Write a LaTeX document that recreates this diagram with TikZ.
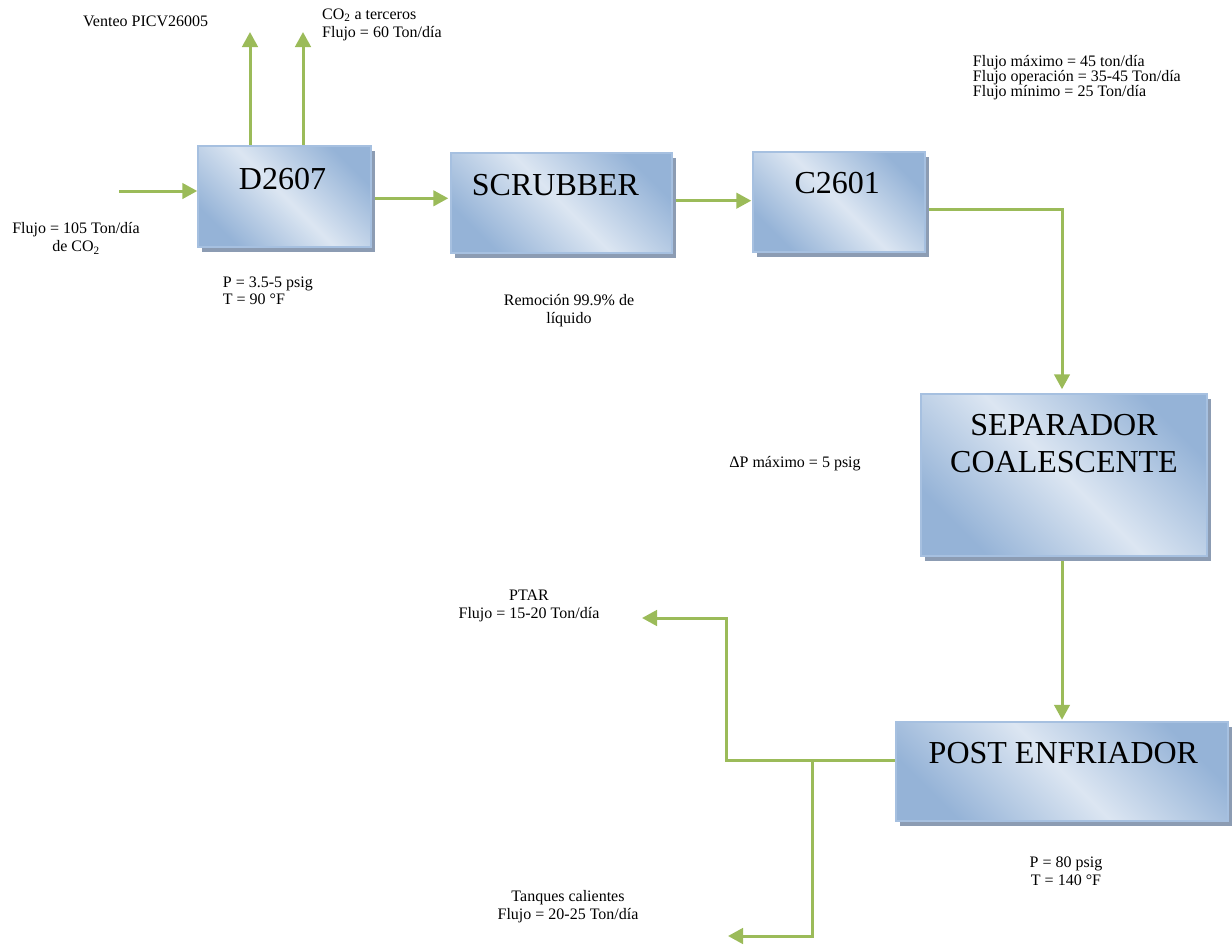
\documentclass[tikz,border=0pt]{standalone}
\usepackage{fontspec}
\setmainfont{Liberation Serif}
\usetikzlibrary{arrows.meta,shadows,calc}
\definecolor{flowgreen}{HTML}{9BBB59}
\definecolor{boxdark}{HTML}{95B3D7}
\definecolor{boxlight}{HTML}{DCE6F2}
\definecolor{boxedge}{HTML}{A6C0E0}
\definecolor{shadowc}{HTML}{8C9CB3}
\pgfdeclarelayer{background}
\pgfsetlayers{background,main}
\tikzset{
  unitbox/.style={draw=boxedge, line width=1.5pt, left color=boxdark, right color=boxdark,
    middle color=boxlight, shading angle=-45, inner sep=0pt,
    drop shadow={shadow xshift=4pt, shadow yshift=-5pt, fill=shadowc, opacity=1}},
  boxlabel/.style={font=\fontsize{32}{37.7}\selectfont, inner sep=0pt, align=center},
  note/.style={font=\fontsize{16}{18.4}\selectfont, inner sep=0pt},
  flow/.style={draw=flowgreen, line width=3pt, -{Triangle[length=15pt,width=15.5pt]}},
}
\begin{document}
\begin{tikzpicture}[x=1pt,y=-1pt]
\useasboundingbox (0,0) rectangle (1232,948);

% process units
\node[unitbox, minimum width=173pt, minimum height=101pt] (d2607) at (284.5,196.5) {};
\node[unitbox, minimum width=221pt, minimum height=100pt] (scrub) at (561.5,203) {};
\node[unitbox, minimum width=172pt, minimum height=100pt] (c2601) at (839,202) {};
\node[unitbox, minimum width=286pt, minimum height=162pt] (sep) at (1064,475) {};
\node[unitbox, minimum width=332pt, minimum height=99pt] (post) at (1062,771.5) {};

\node[boxlabel, anchor=base] (d2607t) at (282.5,189.3) {D2607};
\node[boxlabel, anchor=base] (scrubt) at (555.5,195) {SCRUBBER};
\node[boxlabel, anchor=base] (c2601t) at (837.3,193.3) {C2601};
\node[boxlabel, anchor=base] (sept) at (1064,472.7) {SEPARADOR\\COALESCENTE};
\node[boxlabel, anchor=base] (postt) at (1063.4,763) {POST ENFRIADOR};

% notes (base = baseline of the last line)
\node[note, anchor=base west] (vent) at (83,26.7) {Venteo PICV26005};
\node[note, anchor=base west, align=left, font=\fontsize{16}{18.7}\selectfont] (terc) at (322,37.7)
  {CO\textsubscript{2} a terceros\\Flujo = 60 Ton/día};
\node[note, anchor=base west, align=left, font=\fontsize{16}{14.8}\selectfont] (flujos) at (972.7,96.1)
  {Flujo máximo = 45 ton/día\\Flujo operación = 35-45 Ton/día\\Flujo mínimo = 25 Ton/día};
\node[note, anchor=base, align=center] (feed) at (76,251.7) {Flujo = 105 Ton/día\\de CO\textsubscript{2}};
\node[note, anchor=base west, align=left, font=\fontsize{16}{17}\selectfont] (pd) at (222.7,304.7)
  {P = 3.5-5 psig\\T = 90 °F};
\node[note, anchor=base, align=center, font=\fontsize{16}{18}\selectfont] (remo) at (569,323)
  {Remoción 99.9\% de\\líquido};
\node[note, anchor=base] (dp) at (795,467.7) {ΔP máximo = 5 psig};
\node[note, anchor=base, align=center, font=\fontsize{16}{18.3}\selectfont] (ptart) at (529,618.3)
  {PTAR\\Flujo = 15-20 Ton/día};
\node[note, anchor=base, align=center, font=\fontsize{16}{17.6}\selectfont] (tanqt) at (568,919.3)
  {Tanques calientes\\Flujo = 20-25 Ton/día};
\node[note, anchor=base, align=center, font=\fontsize{16}{18}\selectfont] (pp) at (1066,885)
  {P = 80 psig\\T = 140 °F};

% connectors
\coordinate (in1) at (119,191);
\coordinate (vent1) at (250,32);
\coordinate (vent2) at (303,32);
\coordinate (a1) at ([yshift=-1.8pt]d2607.east);
\coordinate (a2) at ([yshift=2.3pt]scrub.east);
\coordinate (a3) at ([yshift=-7pt]c2601.east);
\coordinate (a3t) at ([xshift=-2pt,yshift=4pt]sep.north);
\coordinate (a5) at ([yshift=11.5pt]post.west);
\coordinate (bend1) at (726,618);
\coordinate (ptar) at (642,618);
\coordinate (junc) at (812,760);
\coordinate (tanq) at (728,936);

\begin{pgfonlayer}{background}
\draw[flow] (in1) -- (in1 -| d2607.west);
\draw[flow] (vent1 |- d2607.north) -- (vent1);
\draw[flow] (vent2 |- d2607.north) -- (vent2);
\draw[flow, shorten >=2pt] (a1) -- (a1 -| scrub.west);
\draw[flow, shorten >=1pt] (a2) -- (a2 -| c2601.west);
\draw[flow] (a3) -| (a3t);
\draw[flow, shorten >=1.5pt] (post.north |- sep.south) -- (post.north);
\draw[flow] (a5) -| (bend1) -- (ptar);
\draw[flow] (junc) |- (tanq);
\end{pgfonlayer}
\end{tikzpicture}
\end{document}
